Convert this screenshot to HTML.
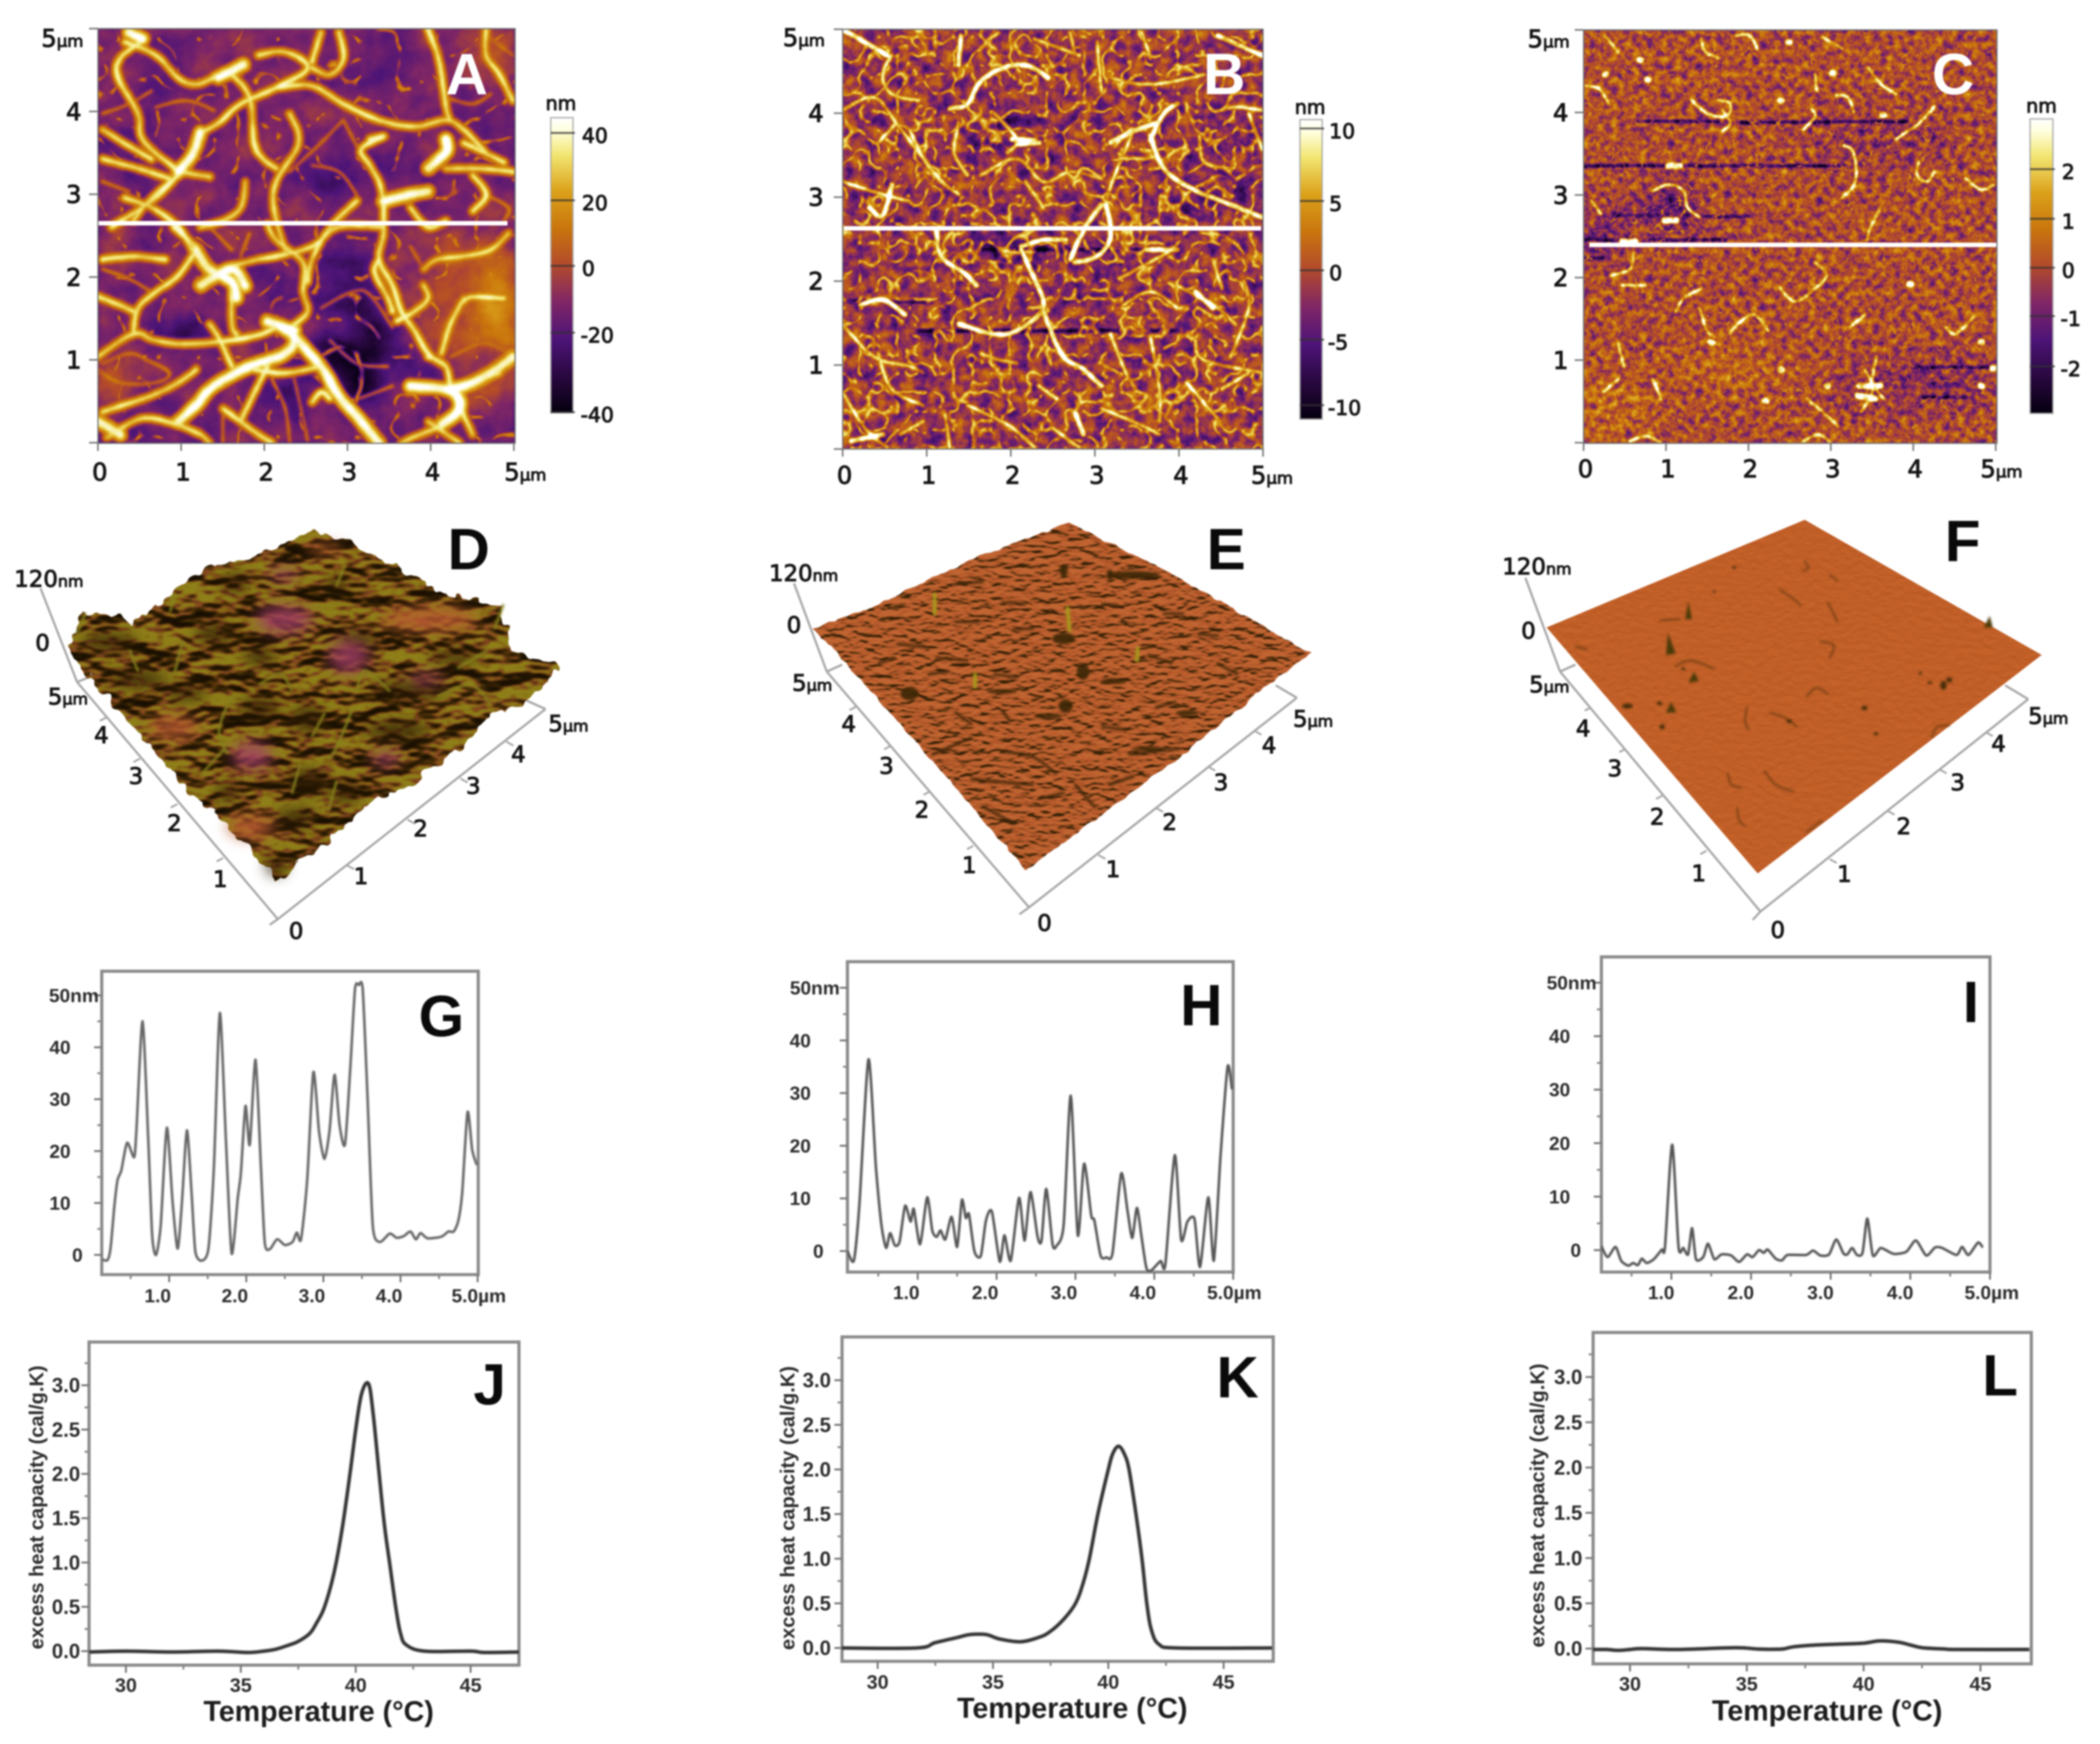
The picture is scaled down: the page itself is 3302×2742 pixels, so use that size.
<!DOCTYPE html>
<html lang="en">
<head>
<meta charset="utf-8">
<title>AFM topography, height profiles and DSC thermograms</title>
<style>
html,body{margin:0;padding:0;background:#fff;width:3302px;height:2742px;overflow:hidden}
svg{display:block;filter:blur(1.2px)}
text{font-family:"Liberation Sans",sans-serif}
.dj{font-family:"DejaVu Sans","Liberation Sans",sans-serif;fill:#141414;stroke:#141414;stroke-width:1.3px}
.pl{font-weight:700;fill:#2c2c2c}
.let{font-weight:700;font-size:92px;text-anchor:middle;fill:#0a0a0a}
</style>
</head>
<body>
<svg id="root" xmlns="http://www.w3.org/2000/svg" width="3302" height="2742" viewBox="0 0 3302 2742">
<defs>
<linearGradient id="cbar" x1="0" y1="1" x2="0" y2="0">
<stop offset="0" stop-color="#05000f"/><stop offset=".125" stop-color="#290840"/><stop offset=".25" stop-color="#4d1478"/><stop offset=".375" stop-color="#802666"/><stop offset=".5" stop-color="#b24a2c"/><stop offset=".625" stop-color="#c9750d"/><stop offset=".75" stop-color="#dba11a"/><stop offset=".875" stop-color="#f2e673"/><stop offset=".96" stop-color="#ffffe0"/><stop offset="1" stop-color="#ffffff"/>
</linearGradient>
<filter id="soft" filterUnits="userSpaceOnUse" x="0" y="0" width="3302" height="900" color-interpolation-filters="sRGB"><feGaussianBlur stdDeviation="22"/></filter>
<filter id="soft2" filterUnits="userSpaceOnUse" x="0" y="800" width="3302" height="700" color-interpolation-filters="sRGB"><feGaussianBlur stdDeviation="11"/></filter>
<filter id="soft3" filterUnits="userSpaceOnUse" x="0" y="800" width="3302" height="700" color-interpolation-filters="sRGB"><feGaussianBlur stdDeviation="1.8"/></filter>

<filter id="afmA" filterUnits="userSpaceOnUse" x="154" y="45" width="656" height="652" color-interpolation-filters="sRGB">
<feGaussianBlur in="SourceGraphic" stdDeviation="2.2" result="s"/>
<feTurbulence type="fractalNoise" baseFrequency=".02" numOctaves="4" seed="8" result="t"/>
<feColorMatrix in="t" type="matrix" values="1 0 0 0 0 1 0 0 0 0 1 0 0 0 0 0 0 0 0 1" result="n"/>
<feComposite in="s" in2="n" operator="arithmetic" k1="0" k2="1" k3=".26" k4="-.13" result="c0"/>
<feTurbulence type="turbulence" baseFrequency=".016" numOctaves="2" seed="31" result="t2"/>
<feColorMatrix in="t2" type="matrix" values="-5 0 0 0 .8 -5 0 0 0 .8 -5 0 0 0 .8 0 0 0 0 1" result="v"/>
<feGaussianBlur in="v" stdDeviation="1.8" result="v2"/>
<feBlend in="c0" in2="v2" mode="lighten" result="c"/>
<feComponentTransfer in="c">
<feFuncR type="table" tableValues=".02 .16 .30 .50 .70 .79 .86 .95 1"/><feFuncG type="table" tableValues="0 .03 .08 .15 .29 .46 .63 .90 1"/><feFuncB type="table" tableValues=".06 .25 .47 .40 .17 .05 .10 .45 1"/>
</feComponentTransfer>
</filter>

<filter id="afmB" filterUnits="userSpaceOnUse" x="1325" y="46" width="661" height="660" color-interpolation-filters="sRGB">
<feGaussianBlur in="SourceGraphic" stdDeviation="1.3" result="s"/>
<feTurbulence type="fractalNoise" baseFrequency=".05" numOctaves="3" seed="17" result="t0"/>
<feColorMatrix in="t0" type="matrix" values="1 0 0 0 0 1 0 0 0 0 1 0 0 0 0 0 0 0 0 1" result="n"/>
<feComposite in="s" in2="n" operator="arithmetic" k1="0" k2="1" k3=".7" k4="-.35" result="c0"/>
<feTurbulence type="turbulence" baseFrequency=".034" numOctaves="2" seed="5" result="t"/>
<feColorMatrix in="t" type="matrix" values="-3.0 0 0 0 .98 -3.0 0 0 0 .98 -3.0 0 0 0 .98 0 0 0 0 1" result="v"/>
<feGaussianBlur in="v" stdDeviation="1.1" result="v2"/>
<feBlend in="c0" in2="v2" mode="lighten" result="c"/>
<feComponentTransfer in="c">
<feFuncR type="table" tableValues=".02 .16 .30 .50 .70 .79 .86 .95 1"/><feFuncG type="table" tableValues="0 .03 .08 .15 .29 .46 .63 .90 1"/><feFuncB type="table" tableValues=".06 .25 .47 .40 .17 .05 .10 .45 1"/>
</feComponentTransfer>
</filter>

<filter id="afmC" filterUnits="userSpaceOnUse" x="2490" y="47" width="650" height="650" color-interpolation-filters="sRGB">
<feGaussianBlur in="SourceGraphic" stdDeviation="1.3" result="s"/>
<feTurbulence type="fractalNoise" baseFrequency=".09" numOctaves="3" seed="21" result="t"/>
<feColorMatrix in="t" type="matrix" values="1 0 0 0 0 1 0 0 0 0 1 0 0 0 0 0 0 0 0 1" result="n"/>
<feComposite in="s" in2="n" operator="arithmetic" k1="0" k2="1" k3=".72" k4="-.36" result="c1"/>
<feTurbulence type="turbulence" baseFrequency=".055" numOctaves="1" seed="9" result="t2"/>
<feColorMatrix in="t2" type="matrix" values="-10 0 0 0 .68 -10 0 0 0 .68 -10 0 0 0 .68 0 0 0 0 1" result="v"/>
<feGaussianBlur in="v" stdDeviation=".9" result="v2"/>
<feBlend in="c1" in2="v2" mode="lighten" result="c"/>
<feComponentTransfer in="c">
<feFuncR type="table" tableValues=".02 .16 .30 .50 .70 .79 .86 .95 1"/><feFuncG type="table" tableValues="0 .03 .08 .15 .29 .46 .63 .90 1"/><feFuncB type="table" tableValues=".06 .25 .47 .40 .17 .05 .10 .45 1"/>
</feComponentTransfer>
</filter>

<filter id="relD" filterUnits="userSpaceOnUse" x="70" y="820" width="860" height="590" color-interpolation-filters="sRGB">
<feTurbulence type="fractalNoise" baseFrequency=".05" numOctaves="2" seed="4" result="dn"/>
<feDisplacementMap in="SourceGraphic" in2="dn" scale="22" xChannelSelector="R" yChannelSelector="G" result="shape"/>
<feTurbulence type="fractalNoise" baseFrequency=".016 .03" numOctaves="3" seed="11" result="t"/>
<feColorMatrix in="t" type="matrix" values="0 0 0 0 0 0 0 0 0 0 0 0 0 0 0 1 0 0 0 0" result="h"/>
<feDiffuseLighting in="h" surfaceScale="22" diffuseConstant="1.05" lighting-color="#fff" result="l"><feDistantLight azimuth="270" elevation="48"/></feDiffuseLighting>
<feGaussianBlur in="l" stdDeviation="1.3" result="l2"/>
<feComponentTransfer in="l2" result="col">
<feFuncR type="table" tableValues=".10 .14 .19 .26 .34 .52 .50 .56"/><feFuncG type="table" tableValues=".06 .09 .12 .17 .21 .27 .36 .50"/><feFuncB type="table" tableValues=".01 .01 .02 .03 .04 .14 .07 .10"/>
</feComponentTransfer>
<feComposite in="col" in2="shape" operator="in"/>
</filter>

<filter id="relE" filterUnits="userSpaceOnUse" x="1250" y="800" width="840" height="590" color-interpolation-filters="sRGB">
<feTurbulence type="fractalNoise" baseFrequency=".05" numOctaves="2" seed="7" result="dn"/>
<feDisplacementMap in="SourceGraphic" in2="dn" scale="8" xChannelSelector="R" yChannelSelector="G" result="shape"/>
<feTurbulence type="fractalNoise" baseFrequency=".05 .11" numOctaves="2" seed="14" result="t"/>
<feColorMatrix in="t" type="matrix" values="0 0 0 0 0 0 0 0 0 0 0 0 0 0 0 1 0 0 0 0" result="h"/>
<feDiffuseLighting in="h" surfaceScale="6" diffuseConstant="1.05" lighting-color="#fff" result="l"><feDistantLight azimuth="270" elevation="48"/></feDiffuseLighting>
<feGaussianBlur in="l" stdDeviation=".8" result="l2"/>
<feComponentTransfer in="l2" result="col">
<feFuncR type="table" tableValues=".2 .24 .32 .48 .64 .70 .73 .76"/><feFuncG type="table" tableValues=".12 .14 .19 .26 .32 .34 .37 .40"/><feFuncB type="table" tableValues=".03 .03 .06 .1 .15 .16 .18 .2"/>
</feComponentTransfer>
<feComposite in="col" in2="shape" operator="in"/>
</filter>

<filter id="relF" filterUnits="userSpaceOnUse" x="2400" y="800" width="840" height="590" color-interpolation-filters="sRGB">
<feTurbulence type="fractalNoise" baseFrequency=".08 .12" numOctaves="2" seed="3" result="t"/>
<feColorMatrix in="t" type="matrix" values="0 0 0 0 0 0 0 0 0 0 0 0 0 0 0 1 0 0 0 0" result="h"/>
<feDiffuseLighting in="h" surfaceScale="1.4" diffuseConstant="1.05" lighting-color="#fff" result="l"><feDistantLight azimuth="270" elevation="48"/></feDiffuseLighting>
<feComponentTransfer in="l" result="col">
<feFuncR type="table" tableValues=".55 .62 .68 .72 .745 .765 .78"/><feFuncG type="table" tableValues=".26 .30 .33 .35 .36 .38 .40"/><feFuncB type="table" tableValues=".08 .10 .12 .13 .15 .16 .18"/>
</feComponentTransfer>
<feComposite in="col" in2="SourceGraphic" operator="in"/>
</filter>
<filter id="lineBlur" filterUnits="userSpaceOnUse" x="0" y="1450" width="3302" height="1292"><feGaussianBlur stdDeviation=".7"/></filter>
</defs>

<g id="layer-maps"></g>
<g id="layer-3d"></g>
<g id="layer-plots"></g>

<g>
<text class="let" style="fill:#fff" x="734" y="148">A</text>
<text class="let" style="fill:#fff" x="1925" y="148">B</text>
<text class="let" style="fill:#fff" x="3071" y="148">C</text>
<text class="let" x="737" y="895">D</text>
<text class="let" x="1928" y="895">E</text>
<text class="let" x="3086" y="882">F</text>
<text class="let" x="694" y="1629">G</text>
<text class="let" x="1889" y="1612">H</text>
<text class="let" x="3099" y="1607">I</text>
<text class="let" x="770" y="2208">J</text>
<text class="let" x="1946" y="2197">K</text>
<text class="let" x="3145" y="2194">L</text>
</g>
</svg>

<script>
// ---------- line chart data ----------
const profileXTicks = [1, 2, 3, 4, 5];
const profileXMinor = [0.5, 1.5, 2.5, 3.5, 4.5];
const profileYTicks = [0, 10, 20, 30, 40, 50];
const profileYMinor = [5, 15, 25, 35, 45];
const thermoXTicks = [30, 35, 40, 45];
const thermoXMinor = [32.5, 37.5, 42.5];
const thermoYTicks = [0, 0.5, 1, 1.5, 2, 2.5, 3];
const thermoYMinor = [0.25, 0.75, 1.25, 1.75, 2.25, 2.75, 3.25];

const gDist = [.13,.2,.24,.29,.33,.38,.455,.545,.575,.655,.73,.78,.83,.89,.97,1.045,1.11,1.165,1.23,1.29,1.34,1.425,1.51,1.58,1.657,1.737,1.81,1.89,1.93,1.99,2.045,2.12,2.19,2.24,2.305,2.4,2.5,2.6,2.655,2.71,2.79,2.87,2.945,3.015,3.08,3.145,3.21,3.28,3.35,3.41,3.46,3.51,3.57,3.64,3.73,3.86,3.95,4.04,4.13,4.2,4.26,4.35,4.53,4.62,4.69,4.75,4.8,4.87,4.93,4.99];
const gHeight = [-.9,-1,1.3,9.5,14.4,16.3,21.6,18.8,24,45,21.7,3.7,0,5.7,24.5,10,1.2,10,24,12,.6,-1.1,1.3,16.8,46.6,21.7,.3,11,15.8,28.7,21.2,37.6,16.8,2.3,1.1,3,1.9,2.5,4.3,3,14.4,35.2,23.6,18.5,24,34.7,25,21.3,36.2,51.2,52,51.2,31.3,5.7,2.5,4.1,3.3,3.6,4.5,3,4.2,3.2,3.5,4.5,4.5,6.6,12,27.5,20.2,17.3];

const hDist = [.11,.19,.26,.376,.47,.54,.6,.65,.71,.77,.84,.91,.95,1.03,1.12,1.185,1.24,1.29,1.35,1.43,1.5,1.56,1.61,1.65,1.72,1.8,1.865,1.94,2.04,2.1,2.18,2.285,2.355,2.43,2.52,2.57,2.63,2.71,2.76,2.85,2.94,3.03,3.11,3.2,3.24,3.32,3.395,3.47,3.58,3.66,3.72,3.78,3.84,3.9,3.96,4.08,4.14,4.26,4.34,4.42,4.51,4.58,4.685,4.755,4.84,4.93,4.985];
const hHeight = [0,-1.8,8.7,36.4,15.9,4.9,.6,3.4,1.1,1.8,8.6,5.6,8,1.3,10.2,3.9,2.7,3.9,2.2,6.5,.8,9.7,6.3,7,-.1,-.9,5.8,7.5,-2,3,-1.8,10.1,2,11.2,2.7,2,11.8,1.3,1,4.9,29.5,3,16.6,6.8,5.8,-.9,-1.2,-.4,14.7,7.7,2.5,8.2,2.5,-3.2,-3.7,-1.9,-2.5,18.2,2.2,5.6,6.1,-3,10.2,-1.8,18.2,35,30.7];

const iDist = [.12,.2,.3,.37,.46,.52,.58,.63,.69,.78,.88,.92,1.01,1.09,1.15,1.21,1.26,1.31,1.4,1.46,1.54,1.63,1.75,1.85,1.95,2.02,2.1,2.16,2.21,2.31,2.39,2.46,2.69,2.78,2.87,2.98,3.07,3.16,3.21,3.27,3.33,3.4,3.46,3.53,3.63,3.79,3.95,4.07,4.2,4.31,4.4,4.58,4.65,4.73,4.85,4.91];
const iHeight = [.8,-1.3,.6,-2,-2.9,-2.4,-2.8,-1.6,-2.4,-1.7,.1,.6,19.7,.6,.4,-.8,4.1,-1.7,-1.3,1.2,-1.7,-.8,-1,-2.2,-.8,-1.3,0,-.5,.1,-1.6,-1.9,-.9,-.9,-.1,-1,-.8,2,-.6,-.8,.4,-.9,-.5,5.9,-1,.4,-.7,-.3,1.8,-1,.5,.4,-.9,.6,-.9,1.4,.5];

const jTemp = [28.4,30,32,34,35.3,36,36.5,37,37.5,38,38.3,38.6,38.9,39.15,39.45,39.75,40,40.25,40.55,40.75,41,41.25,41.5,41.75,41.95,42.2,43,45,45.6,47.1];
const jCp = [-.01,0,-.01,0,-.015,0,.02,.06,.11,.2,.32,.47,.72,1,1.45,2,2.5,2.9,3.02,2.7,2.05,1.42,.95,.48,.2,.07,0,0,-.015,-.01];

const kTemp = [28.4,31.7,32.5,33.5,34,34.7,35.3,36.2,37,37.46,38.06,38.58,38.9,39.18,39.55,40,40.2,40.45,40.7,40.9,41.2,41.46,41.67,41.87,42.2,43,47.1];
const kCp = [0,0,.06,.12,.15,.15,.1,.07,.12,.18,.32,.5,.72,1,1.5,2,2.18,2.26,2.17,2,1.5,1,.5,.2,.04,0,0];

const lTemp = [28.4,29,29.5,30,30.5,32,34.5,35.5,36.5,37,38,39,40,40.7,41.5,42,42.5,43.5,44,47.1];
const lCp = [-.01,-.01,-.02,-.01,0,-.01,.01,-.005,-.005,.02,.04,.05,.06,.085,.07,.04,.01,-.005,-.01,-.01];

// colour-bar ticks
const cbarALabels = ['40','20','0','-20','-40'];
const cbarAValues = [40,20,0,-20,-40];
const cbarBLabels = ['10','5','0','-5','-10'];
const cbarBValues = [10,5,0,-5,-10];
const cbarCLabels = ['2','1','0','-1','-2'];
const cbarCValues = [2,1,0,-1,-2];
const mapTicks = [0,1,2,3,4];

// ---------- micrograph traces, in trace units of each image ----------
const aBlobs = [[690,230,500,300,.36],[870,200,80,100,.3],[1100,150,60,70,.56],[1090,980,90,240,.64],[1010,840,80,110,.52],[1100,760,60,40,.52],[1000,980,60,100,.5],[780,1100,100,60,0],[810,1200,50,50,.02],[400,1020,60,40,.08],[360,260,50,40,.14],[770,545,60,30,.08],[690,585,35,30,.1],[770,860,75,110,.2],[840,1010,60,50,.12],[620,840,40,50,.2],[620,1220,60,70,.2],[310,1300,40,40,.25],[250,1150,60,90,.5],[260,740,50,40,.48],[300,850,70,50,.3],[420,1340,50,30,.2],[950,1150,40,30,.15],[1080,1110,50,30,.2],[1100,380,50,40,.2],[880,470,50,50,.22],[550,390,50,60,.3],[290,470,60,90,.28],[1120,530,20,20,.1]];
const aThick = [[620,1000,660,1040,640,1090,560,1130,480,1190,440,1250,400,1300],[660,1040,720,1130,760,1220,810,1300,850,1365],[440,770,470,830,520,870,530,920],[450,880,520,830,550,880],[490,240,545,200],[960,520,1000,470,1000,430],[860,620,920,600,960,590],[220,1300,270,1340],[1000,1200,1040,1190,1100,1150,1150,1100],[920,1190,1010,1205,1030,1260,990,1310],[400,530,430,480,450,410],[600,990,660,1020],[290,100,320,120]];
const aMid = [[290,100,320,120,270,180,265,240,310,350,320,430,385,510,410,530,470,545],[480,240,440,260,400,240,350,170,280,130],[520,230,560,300,570,440,590,490,620,520],[580,170,640,160,690,210,620,270,540,320,490,380,450,410],[620,270,700,265,770,320,850,370,930,390,1000,370,1040,400,1090,470],[760,100,770,180,740,230,700,210],[720,100,700,190],[960,90,985,190,1000,330,1010,370],[1090,90,1090,170,1120,230,1150,310],[830,430,860,420,810,460,830,510,850,560,860,620],[860,620,860,720,850,800,880,880,900,960,930,1020,960,1090,1000,1130],[850,800,840,840,870,920,880,960],[550,560,540,640,500,680,450,700],[250,700,340,620,400,540],[280,610,340,640,400,700,430,770],[410,530,340,610,300,680],[600,690,620,740,680,810,680,900,690,960,660,1000],[650,350,670,440,620,560,615,650,640,770],[860,700,760,700,700,760,620,790,580,800,520,820],[520,880,520,1000,530,1030],[440,770,400,850,350,900,310,950,300,1020],[220,1100,300,1030,350,1050,430,1060,560,1040,620,1010],[470,1000,490,1040,520,1130],[300,960,250,930,220,915],[440,1140,400,1180,340,1220,230,1270],[570,1140,640,1150,720,1130],[700,1240,720,1210,740,1230],[1010,1210,1000,1130,960,1100],[1030,1250,1060,1340],[1000,1200,1120,1150],[950,880,960,920,930,960,890,990],[1140,720,1100,770,1040,790,980,800,950,830],[1040,920,1010,1000,990,1090],[1130,920,1060,915,1040,930],[400,1310,450,1340,470,1365],[500,1260,540,1300,580,1340,610,1365],[800,620,740,700,700,800,690,870],[1040,440,1130,500],[1000,520,1080,520,1150,530],[900,1365,940,1340,1000,1310],[960,1300,1030,1365],[230,800,300,790,370,800],[230,490,310,520,380,550],[230,400,290,450,340,490],[390,700,440,760],[600,1130,560,1240,540,1300],[240,1350,320,1290,400,1310],[920,640,960,700,1000,680],[1060,540,1090,600,1060,650]];
const aThin = [[660,1170,680,1290,690,1360],[610,1170,640,1260,650,1365],[880,1190,800,1230,740,1240],[740,1050,800,1120,870,1130],[720,950,790,900,830,910,880,1010],[770,370,720,440,650,530],[770,370,800,450],[700,510,760,530,800,600],[500,1280,500,1365],[230,1120,290,1090,330,1110,380,1150,350,1180,270,1180,220,1140],[230,830,290,860,340,900],[230,350,290,320,340,280],[920,760,950,830],[560,720,540,790],[470,700,520,770],[1010,1100,1080,1060,1130,1080],[1080,100,1150,170],[350,330,420,310,480,340],[230,560,290,590],[1090,600,1140,640,1130,680],[1000,300,1060,320,1100,290]];

const bBlobs = [[1110,590,70,30,.1],[1010,640,50,40,.12],[620,760,100,40,.15],[530,770,30,20,.15],[270,650,30,20,.12],[870,770,80,20,.2],[600,400,80,60,.26],[1100,440,60,60,.28],[800,880,70,60,.3],[480,800,50,40,.26],[1000,1110,50,50,.32],[650,1340,50,30,.3]];
const bDark = [[420,1020,680,1020,1000,1020],[530,770,930,770],[250,930,450,930]];
const bThick = [[490,335,530,320,560,250,620,205,670,205,710,240],[940,420,970,520,1030,580,1100,620,1190,670],[940,430,970,350,1000,320],[850,440,900,405,950,380],[310,640,340,665,360,570],[760,800,790,710,830,630],[770,810,820,790,850,730,840,630],[460,710,470,790,520,840,550,880],[650,770,680,860,700,930,690,970,640,1020,590,1030,510,1000],[700,960,740,1090,790,1140,830,1190],[650,760,700,740,750,740],[930,770,1000,770],[290,940,340,925,390,970],[1040,900,1080,950],[770,1270,790,1340],[270,1360,340,1340],[1090,110,1190,170],[250,90,300,130,350,170],[515,110,510,200],[640,445,690,440],[630,430,680,432]];
const bMid = [[360,170,340,230,360,290,420,310],[250,340,320,300,370,380,420,470,480,570],[370,380,330,440],[400,400,450,530,510,600],[510,380,500,470,530,540],[590,350,640,430,620,470],[560,540,640,490,700,560,760,530,830,550],[660,560,700,640],[250,560,340,600,400,620],[860,450,900,400,860,540,840,620],[1050,420,1060,500,1120,520],[1160,350,1190,460],[1000,880,1090,950,1130,1000],[1150,870,1160,950,1120,1100],[250,1000,320,1100,400,1130,430,1150],[330,1090,360,1200,430,1250],[560,1090,600,1110,640,1120],[530,1250,620,1310,680,1380],[720,1320,780,1380],[830,1260,900,1300,960,1340],[850,1030,890,1170],[940,1040,960,1200,960,1300],[1040,1050,1060,1110,1190,1150],[1100,1200,1160,1150],[1020,1180,1090,1290],[250,1210,300,1320,350,1380],[430,1300,380,1340],[480,1280,490,1380],[690,1190,730,1230],[870,860,990,770],[880,940,940,900,1000,950],[1080,800,1100,890],[760,100,770,160],[920,100,940,180],[570,130,600,100],[680,120,780,170],[820,130,830,280],[850,240,940,260,1060,230],[1100,340,1130,330,1190,340]];

const cBlobs = [[460,620,35,50,.03],[490,685,40,15,.03],[270,700,35,25,.08],[360,670,60,20,.18],[915,1200,25,40,.15],[280,770,50,30,.28],[1100,1180,200,70,.38],[1000,430,200,80,.42],[300,1250,120,100,.58],[600,1130,150,60,.58]];
const cDark = [[370,375,580,375],[640,378,1070,375],[230,512,440,512],[490,512,910,512],[400,740,600,740],[320,665,430,665],[540,668,660,668],[1080,1133,1280,1133],[1100,1225,1220,1225],[230,795,280,795],[230,740,320,740]];
const cBright = [[535,120,545,160,580,180],[510,310,550,350,600,360,610,320,580,310],[590,340,610,380,590,405],[1140,330,1100,380,1040,430],[970,210,1000,260,1040,290],[905,450,930,470,935,560,900,610],[1000,640,975,700,965,740],[410,590,450,570,490,590,500,640,530,670],[250,620,275,660],[470,960,490,920,535,890],[530,950,550,1020,570,1040],[610,1030,630,1000,670,970,710,1020],[830,810,860,850,830,890,780,930,740,890],[960,1140,980,1200,950,1270],[990,1100,980,1180,1010,1230],[920,1010,960,970],[1170,1010,1195,1030,1240,980],[235,265,270,275,295,320],[285,110,320,160],[625,110,660,110,680,150],[850,115,900,150],[350,1360,390,1345,430,1365],[800,1360,840,1340,870,1365],[1220,550,1260,585,1295,570],[1100,500,1095,540,1120,560,1140,530],[320,1060,335,1130],[410,1170,430,1230],[280,1210,320,1170],[330,880,390,880],[300,850,350,830,360,780],[810,1230,850,1270,890,1315],[885,295,915,300,930,345],[800,400,830,360,820,335],[830,230,835,280]];
const cSpots = [[440,680,470,680],[330,745,365,745],[450,512,480,512],[945,1190,1000,1190],[940,1220,985,1230],[285,230,289,231],[395,245,400,246],[740,310,744,311],[875,225,880,226],[1005,355,1009,356],[740,1140,745,1141],[1290,1135,1294,1136],[1260,1055,1264,1056],[560,1055,564,1056],[860,1190,864,1191],[700,1235,704,1236],[1075,875,1079,876],[1260,1190,1264,1191],[760,130,764,131],[375,185,379,186]];

const dEdge = [165,490,210,360,330,400,430,290,530,190,590,190,690,130,770,80,860,110,1000,230,1100,300,1240,340,1260,500,1380,555,1290,690,1210,720,1140,840,1020,960,900,1050,810,1170,680,1310,630,1220,530,1070,450,970,320,750,220,590];
const dPink = [[700,390,70,50],[860,520,50,60],[620,870,50,50],[950,880,35,25],[1050,600,45,18],[700,230,35,20]];
const dOrange = [[1060,390,120,40],[430,770,60,40],[620,1120,60,40],[800,140,45,15]];
const dShadows = [[530,440,50,28],[1010,640,90,26],[980,780,80,28],[640,700,50,30],[760,740,40,40],[460,650,50,22],[340,600,70,26],[270,470,70,26],[880,460,50,26],[640,520,40,26],[760,960,45,40],[850,1000,40,30],[730,1090,50,30],[680,1260,25,30],[560,1000,30,26],[1120,520,60,20],[830,270,30,24],[580,260,30,30]];
const dRidges = [[640,620,690,580,720,640],[570,660,540,780,560,860],[880,640,900,570,960,640],[1080,660,1160,620,1210,690],[870,700,830,840,810,880],[800,720,770,800],[740,900,720,1000],[830,960,810,1060],[430,300,420,360],[1240,340,1220,420],[1200,500,1130,560],[550,850,500,930],[210,370,190,440],[850,200,830,270],[320,500,340,570],[450,470,430,580]];

const eEdge = [130,430,280,360,530,190,640,130,795,50,1040,220,1280,410,1420,525,1300,650,1100,880,800,1190,683,1310,430,900,280,660];
const eDark = [[380,670,24,24],[785,715,18,24],[740,752,36,8],[830,590,16,30],[780,470,30,20],[960,240,70,14],[780,225,10,25],[900,240,8,20],[910,625,34,10],[620,662,40,8],[1100,740,30,9],[1000,870,44,7]];
const eStreaks = [[440,890,540,830],[540,980,700,1000],[620,880,700,900,760,960],[950,890,1080,870],[720,1050,780,1030],[570,1080,650,1140],[810,1000,860,1080],[430,600,480,590],[650,435,700,435],[500,410,560,410],[350,490,420,500],[450,540,530,550],[520,270,570,265],[880,345,920,350],[1040,380,1090,380],[620,340,680,345],[1130,455,1180,460],[1180,560,1230,600],[600,600,660,610],[1000,530,1060,560],[900,1000,960,970],[1020,720,1070,700],[880,790,940,800],[640,770,620,730],[500,740,540,780],[300,560,340,540]];
const ePeaks = [[550,645,550,600],[795,440,790,360],[970,550,972,505],[445,380,445,310]];

const fEdge = [135,430,805,40,1420,530,683,1322];
const fSpikes = [[445,530,450,450,470,525],[495,400,503,335,512,400],[503,630,518,590,530,625],[445,740,458,700,472,738],[1270,430,1285,388,1293,430]];
const fSpots = [[345,715,14,9],[1165,640,8,16],[1180,620,8,9],[1130,630,6,5],[1105,595,5,5],[435,790,7,9],[960,722,8,8],[990,815,6,6],[622,213,5,5],[570,300,4,4],[428,705,7,7],[765,770,7,7],[490,580,6,5]];
const fArcs = [[740,295,770,320,795,350],[865,340,880,380,890,410],[845,480,880,495,870,540],[805,190,815,215,800,225],[810,680,835,650,865,670],[655,720,650,770,660,800],[715,740,750,755,785,790],[605,960,615,1000,640,1010],[700,950,730,1000,775,1025],[630,1085,635,1130,650,1150],[210,500,240,510],[470,570,510,550,570,580],[1135,825,1150,790,1180,785],[810,1170,850,1130],[430,405,480,400],[870,240,890,260]];

// ---------- helpers ----------
const NS = 'http://www.w3.org/2000/svg';
function mk(tag, attrs, parent, name, interact) {
  const el = document.createElementNS(NS, tag);
  for (const k in attrs) el.setAttribute(k, attrs[k]);
  
  
  parent.appendChild(el);
  return el;
}
function lin(v0, p0, v1, p1) { return v => p0 + (v - v0) * (p1 - p0) / (v1 - v0); }
function smooth(pts, tension) {
  let d = 'M' + pts[0][0].toFixed(1) + ' ' + pts[0][1].toFixed(1);
  for (let i = 0; i < pts.length - 1; i++) {
    const p0 = pts[Math.max(i - 1, 0)], p1 = pts[i], p2 = pts[i + 1], p3 = pts[Math.min(i + 2, pts.length - 1)];
    const c1 = [p1[0] + (p2[0] - p0[0]) * tension, p1[1] + (p2[1] - p0[1]) * tension];
    const c2 = [p2[0] - (p3[0] - p1[0]) * tension, p2[1] - (p3[1] - p1[1]) * tension];
    d += 'C' + c1[0].toFixed(1) + ' ' + c1[1].toFixed(1) + ' ' + c2[0].toFixed(1) + ' ' + c2[1].toFixed(1) + ' ' + p2[0].toFixed(1) + ' ' + p2[1].toFixed(1);
  }
  return d;
}
function gray(v) { const c = Math.round(v * 255); return 'rgb(' + c + ',' + c + ',' + c + ')'; }
function tracePts(arr, fx, fy) { const o = []; for (let i = 0; i < arr.length; i += 2) o.push([fx(arr[i]), fy(arr[i + 1])]); return o; }
function drawTraces(parent, list, fx, fy, stroke, width, name) {
  list.forEach(t => {
    mk('path', {d: smooth(tracePts(t, fx, fy), .18), fill: 'none', stroke: stroke, 'stroke-width': width, 'stroke-linecap': 'round', 'stroke-linejoin': 'round'}, parent, name);
  });
}
function drawBlobs(parent, list, fx, fy, name) {
  list.forEach(b => {
    mk('ellipse', {cx: fx(b[0]), cy: fy(b[1]), rx: Math.abs(fx(b[0] + b[2]) - fx(b[0])), ry: Math.abs(fy(b[1] + b[3]) - fy(b[1])), fill: gray(b[4])}, parent, name);
  });
}
function djText(parent, str, x, y, size, anchor, name) {
  const t = mk('text', {x: x, y: y + size * .36, 'font-size': size, 'text-anchor': anchor, class: 'dj'}, parent, name);
  t.textContent = str;
  return t;
}
function djUnit(parent, num, unit, x, y, size, usize, anchor, name) {
  const t = mk('text', {x: x, y: y + size * .36, 'font-size': size, 'text-anchor': anchor, class: 'dj'}, parent, name);
  t.appendChild(document.createTextNode(num));
  const s = document.createElementNS(NS, 'tspan');
  s.setAttribute('font-size', usize);
  
  
  s.textContent = unit;
  t.appendChild(s);
  return t;
}

// ---------- 2D maps ----------
const layerMaps = document.getElementById('layer-maps');
const mapConfigs = [
 {id:'a', f:'afmA', x0:154, x1:808, y0:696, y1:45, top:45, bot:697, left:154, right:810,
  tx:lin(220,154,1155,810), ty:lin(88,45,1367,697), base:.36,
  line:[154,798,351], ylab:116, xlabY:742, five:[65,60], fiveX:793,
  cb:{x:866,w:35,t:185,b:649,lx:915,nmx:882,nmy:162,ticks:[209,315,418,523,648]}, cbL:cbarALabels, cbV:cbarAValues},
 {id:'b', f:'afmB', x0:1325, x1:1986, y0:706, y1:46, top:46, bot:706, left:1325, right:1986,
  tx:lin(250,1325,1192,1986), ty:lin(90,46,1385,706), base:.42,
  line:[1327,1983,359], ylab:1283, xlabY:747, five:[1231,59], fiveX:1967,
  cb:{x:2044,w:35,t:188,b:659,lx:2090,nmx:2060,nmy:168,ticks:[202,316,425,534,637]}, cbL:cbarBLabels, cbV:cbarBValues},
 {id:'c', f:'afmC', x0:2490, x1:3138, y0:696, y1:47, top:47, bot:697, left:2490, right:3140,
  tx:lin(230,2490,1302,3140), ty:lin(93,47,1367,697), base:.5,
  line:[2499,3140,385], ylab:2454, xlabY:737, five:[2402,61], fiveX:3114,
  cb:{x:3192,w:36,t:187,b:650,lx:3242,nmx:3210,nmy:166,ticks:[266,344,421,497,576]}, cbL:cbarCLabels, cbV:cbarCValues}
];
mapConfigs.forEach(m => {
  const root = mk('g', {}, layerMaps, 'panel-' + m.id + '-height-map');
  const img = mk('g', {filter: 'url(#' + m.f + ')'}, root, 'height-image-' + m.id);
  mk('rect', {x: m.left, y: m.top, width: m.right - m.left, height: m.bot - m.top, fill: gray(m.base)}, img, 'image-background-' + m.id);
  const blobs = mk('g', {filter: 'url(#soft)'}, img, 'height-patches-' + m.id);
  if (m.id === 'a') {
    drawBlobs(blobs, aBlobs, m.tx, m.ty, 'height-patch');
    drawTraces(img, aThin, m.tx, m.ty, gray(.62), 5, 'thin-fiber');
    drawTraces(img, aMid, m.tx, m.ty, gray(.6), 17, 'fiber-halo');
    drawTraces(img, aThick, m.tx, m.ty, gray(.7), 26, 'fiber-bundle-halo');
    drawTraces(img, aMid, m.tx, m.ty, gray(.78), 9, 'fiber');
    drawTraces(img, aMid, m.tx, m.ty, gray(.93), 3.5, 'fiber-core');
    drawTraces(img, aThick, m.tx, m.ty, gray(.9), 14, 'fiber-bundle');
    drawTraces(img, aThick, m.tx, m.ty, gray(1), 7, 'fiber-bundle-core');
  }
  if (m.id === 'b') {
    drawBlobs(blobs, bBlobs, m.tx, m.ty, 'height-patch');
    drawTraces(img, bDark, m.tx, m.ty, gray(.06), 6, 'scan-streak');
    drawTraces(img, bMid, m.tx, m.ty, gray(.66), 7, 'fiber-halo');
    drawTraces(img, bMid, m.tx, m.ty, gray(.88), 3.5, 'fiber');
    drawTraces(img, bThick, m.tx, m.ty, gray(.98), 8, 'fiber-bundle');
  }
  if (m.id === 'c') {
    drawBlobs(blobs, cBlobs, m.tx, m.ty, 'height-patch');
    drawTraces(img, cDark, m.tx, m.ty, gray(.12), 5, 'scan-streak');
    drawTraces(img, cBright, m.tx, m.ty, gray(.9), 5, 'fiber');
    drawTraces(img, cSpots, m.tx, m.ty, gray(1), 10, 'bright-spot');
  }
  mk('rect', {x: m.line[0], y: m.line[2] - 3.5, width: m.line[1] - m.line[0], height: 7, fill: '#fff'}, root, 'profile-line-marker-' + m.id);
  mk('rect', {x: m.left, y: m.top, width: m.right - m.left, height: m.bot - m.top, fill: 'none', stroke: '#777', 'stroke-width': 2}, root, 'image-frame-' + m.id);
  const sx = lin(0, m.x0, 5, m.x1), sy = lin(0, m.y0, 5, m.y1);
  mapTicks.concat([5]).forEach(v => {
    mk('line', {x1: sx(v), x2: sx(v), y1: m.bot, y2: m.bot + 12, stroke: '#777', 'stroke-width': 2.5}, root, 'x-tick');
    mk('line', {x1: m.left - 14, x2: m.left, y1: sy(v), y2: sy(v), stroke: '#777', 'stroke-width': 2.5}, root, 'y-tick');
  });
  mapTicks.forEach(v => {
    djText(root, String(v), sx(v) + 3, m.xlabY, 38, 'middle', 'x-tick-label');
    if (v > 0) djText(root, String(v), m.ylab, sy(v), 38, 'middle', 'y-tick-label');
  });
  djUnit(root, '5', 'µm', m.fiveX, m.xlabY, 38, 26, 'start', 'x-tick-label-max');
  djUnit(root, '5', 'µm', m.five[0], m.five[1], 38, 26, 'start', 'y-tick-label-max');
  // colour bar
  const c = m.cb;
  const cg = mk('g', {}, root, 'colorbar-' + m.id);
  mk('rect', {x: c.x, y: c.t, width: c.w, height: c.b - c.t, fill: 'url(#cbar)', stroke: '#aaa', 'stroke-width': 2}, cg, 'colorbar-ramp');
  m.cbV.forEach((v, i) => {
    const yy = c.ticks[i];
    mk('line', {x1: c.x, x2: c.x + c.w + 3, y1: yy, y2: yy, stroke: '#333', 'stroke-opacity': .75, 'stroke-width': 3}, cg, 'colorbar-tick');
    djText(cg, m.cbL[i], c.lx - (m.cbL[i][0] === '-' ? 2 : 0), yy + 4, 32, 'start', 'colorbar-label');
  });
  djText(cg, 'nm', c.nmx, c.nmy, 30, 'middle', 'colorbar-unit');
});

// ---------- 3D surfaces ----------
const layer3d = document.getElementById('layer-3d');
const surfaces = [
 {id:'d', f:'relD', edge:dEdge, fx:lin(0,0,1568,1000), fy:lin(0,800,1568,1500),
  axis:[[100,280],[190,610],[685,1445],[1345,705]], stub:[[1290,670],[1345,705]], stub2:[[190,610],[225,590]], foot:[[685,1445],[665,1465]],
  leftT:[[262,735],[345,880],[437,1040],[550,1230]], rightT:[[855,1255],[1005,1095],[1135,950],[1248,820]],
  lab:{n120:[35,245],zero:[105,470],five:[118,660],l:[[250,795],[335,940],[430,1105],[543,1303]],o:[730,1485],r:[[890,1293],[1037,1125],[1167,975],[1278,862]],five2:[1352,755]}},
 {id:'e', f:'relE', edge:eEdge, fx:lin(0,1200,1568,2150), fy:lin(0,800,1568,1480),
  axis:[[80,270],[165,590],[690,1445],[1385,685]], stub:[[1330,640],[1385,685]], stub2:[[165,590],[205,565]], foot:[[690,1445],[665,1470]],
  leftT:[[240,718],[330,860],[432,1025],[545,1222]], rightT:[[870,1255],[1020,1085],[1155,935],[1275,805]],
  lab:{n120:[15,232],zero:[80,420],five:[75,630],l:[[222,778],[320,930],[412,1090],[535,1290]],o:[730,1500],r:[[908,1305],[1055,1135],[1188,990],[1313,855]],five2:[1375,760]}},
 {id:'f', f:'relF', edge:fEdge, fx:lin(0,2350,1568,3300), fy:lin(0,800,1568,1480),
  axis:[[80,250],[170,590],[690,1460],[1385,690]], stub:[[1325,640],[1385,690]], stub2:[[170,590],[210,565]], foot:[[690,1460],[670,1490]],
  leftT:[[250,720],[340,870],[435,1040],[550,1240]], rightT:[[870,1270],[1020,1095],[1155,945],[1275,810]],
  lab:{n120:[20,208],zero:[88,440],five:[90,635],l:[[230,795],[312,940],[422,1115],[530,1320]],o:[735,1525],r:[[908,1322],[1062,1150],[1202,990],[1308,850]],five2:[1385,750]}}
];
surfaces.forEach(s => {
  const root = mk('g', {}, layer3d, 'panel-' + s.id + '-3d-surface');
  const fx = s.fx, fy = s.fy;
  const ax = mk('g', {}, root, 'axes-3d-' + s.id);
  const seg = (a, b, w, n) => mk('line', {x1: fx(a[0]), y1: fy(a[1]), x2: fx(b[0]), y2: fy(b[1]), stroke: '#a8a8a8', 'stroke-width': w}, ax, n);
  seg(s.axis[0], s.axis[1], 3.5, 'z-axis');
  seg(s.axis[1], s.axis[2], 3.5, 'y-axis-3d');
  seg(s.axis[2], s.axis[3], 3.5, 'x-axis-3d');
  seg(s.stub[0], s.stub[1], 3.5, 'x-axis-end');
  seg(s.stub2[0], s.stub2[1], 3.5, 'y-axis-end');
  seg(s.foot[0], s.foot[1], 3.5, 'origin-tick');
  s.leftT.forEach(p => seg(p, [p[0] - 16, p[1] + 12], 3, 'y-tick-3d'));
  s.rightT.forEach(p => seg(p, [p[0] + 18, p[1] + 14], 3, 'x-tick-3d'));
  const surf = mk('g', {filter: 'url(#' + s.f + ')'}, root, 'surface-relief-' + s.id);
  const pts = tracePts(s.edge, fx, fy).map(p => p[0].toFixed(1) + ',' + p[1].toFixed(1)).join(' ');
  mk('polygon', {points: pts, fill: '#000'}, surf, 'surface-outline-' + s.id);
  const over = mk('g', {}, root, 'surface-detail-' + s.id);
  const ell = (parent, b, col, op, n) => mk('ellipse', {cx: fx(b[0]), cy: fy(b[1]), rx: Math.abs(fx(b[0] + b[2]) - fx(b[0])), ry: Math.abs(fy(b[1] + b[3]) - fy(b[1])), fill: col, opacity: op}, parent, n);
  const line = (parent, t, col, w, n) => mk('path', {d: smooth(tracePts(t, fx, fy), .18), fill: 'none', stroke: col, 'stroke-width': w, 'stroke-linecap': 'round'}, parent, n);
  if (s.id === 'd') {
    const g = mk('g', {filter: 'url(#soft2)'}, over, 'flat-regions');
    dShadows.forEach(b => ell(g, b, '#2a1a04', .85, 'valley-shadow'));
    dPink.forEach(b => ell(g, b, '#a23f66', .78, 'pink-flat-region'));
    dOrange.forEach(b => ell(g, b, '#b85a30', .85, 'orange-flat-region'));
    const g2 = mk('g', {filter: 'url(#soft3)'}, over, 'ridge-highlights');
    dRidges.forEach(t => line(g2, t, '#85801c', 4, 'ridge-highlight'));
  }
  if (s.id === 'e') {
    const g = mk('g', {filter: 'url(#soft3)'}, over, 'fibril-shadows');
    eDark.forEach(b => ell(g, b, '#3a2606', .9, 'dark-peak'));
    eStreaks.forEach(t => line(g, t, '#42280a', 4, 'dark-streak'));
    ePeaks.forEach(t => line(g, t, '#a89a1c', 6, 'olive-peak'));
  }
  if (s.id === 'f') {
    const g = mk('g', {filter: 'url(#soft3)'}, over, 'fibril-shadows');
    fArcs.forEach(t => line(g, t, '#6a3c10', 2.5, 'fibril-arc'));
    fSpots.forEach(b => ell(g, b, '#3a2806', .9, 'dark-spot'));
    fSpikes.forEach(p => mk('polygon', {points: tracePts(p, fx, fy).map(q => q.join(',')).join(' '), fill: '#4a3a08'}, g, 'surface-spike'));
  }
  const l = s.lab;
  djUnit(root, '120', 'nm', fx(l.n120[0]), fy(l.n120[1]), 36, 25, 'start', 'z-max-label');
  djText(root, '0', fx(l.zero[0]), fy(l.zero[1]), 36, 'middle', 'z-zero-label');
  djUnit(root, '5', 'µm', fx(l.five[0]), fy(l.five[1]), 36, 25, 'start', 'y-max-label-3d');
  ['4','3','2','1'].forEach((t, i) => djText(root, t, fx(l.l[i][0]), fy(l.l[i][1]), 36, 'middle', 'y-tick-label-3d'));
  djText(root, '0', fx(l.o[0]), fy(l.o[1]), 36, 'middle', 'origin-label');
  ['1','2','3','4'].forEach((t, i) => djText(root, t, fx(l.r[i][0]), fy(l.r[i][1]), 36, 'middle', 'x-tick-label-3d'));
  djUnit(root, '5', 'µm', fx(l.five2[0]), fy(l.five2[1]), 36, 25, 'start', 'x-max-label-3d');
});

// ---------- line charts ----------
const layerPlots = document.getElementById('layer-plots');
const plotConfigs = [
 {id:'g', kind:'profile', xs:gDist, ys:gHeight, left:160, right:752, top:1527, bot:2004, sx:lin(1,266,5,751), sy:lin(0,1973,50,1565), yRight:111, zeroRight:130, fifty:77, xlabY:2037, off:-18, lab5:710, col:'#666'},
 {id:'h', kind:'profile', xs:hDist, ys:hHeight, left:1332.5, right:1939, top:1512, bot:2000, sx:lin(1,1443,5,1939), sy:lin(0,1967,50,1553), yRight:1275, zeroRight:1295, fifty:1242, xlabY:2032, off:-18, lab5:1898, col:'#555'},
 {id:'i', kind:'profile', xs:iDist, ys:iHeight, left:2518, right:3129, top:1504.5, bot:2000, sx:lin(1,2628,5,3129), sy:lin(0,1965.5,50,1545), yRight:2469, zeroRight:2486, fifty:2432, xlabY:2032, off:-16, lab5:3089, col:'#555'},
 {id:'j', kind:'thermo', xs:jTemp, ys:jCp, left:140, right:816, top:2110, bot:2618, sx:lin(30,198,45,740), sy:lin(0,2596,3,2178), yRight:126, xlabY:2649, tx:501, ty:2690, yx:57, yy:2370},
 {id:'k', kind:'thermo', xs:kTemp, ys:kCp, left:1324, right:2002, top:2102, bot:2612, sx:lin(30,1380,45,1924), sy:lin(0,2591,3,2170), yRight:1306.5, xlabY:2644, tx:1686, ty:2685, yx:1238, yy:2371},
 {id:'l', kind:'thermo', xs:lTemp, ys:lCp, left:2505, right:3194, top:2095, bot:2616, sx:lin(30,2563,45,3114), sy:lin(0,2592,3,2165), yRight:2488, xlabY:2647, tx:2873, ty:2689, yx:2417, yy:2367}
];
function plText(parent, str, x, y, size, anchor, name) {
  const t = mk('text', {x: x, y: y + size * .35, 'font-size': size, 'text-anchor': anchor, class: 'pl'}, parent, name);
  t.textContent = str;
  return t;
}
plotConfigs.forEach(p => {
  const root = mk('g', {}, layerPlots, 'panel-' + p.id + '-chart');
  const clipId = 'clip-' + p.id;
  const defs = document.querySelector('defs');
  const cp = mk('clipPath', {id: clipId}, defs, 'clip-' + p.id);
  mk('rect', {x: p.left, y: p.top, width: p.right - p.left, height: p.bot - p.top}, cp, 'clip-rect');
  mk('rect', {x: p.left, y: p.top, width: p.right - p.left, height: p.bot - p.top, fill: 'none', stroke: '#8c8c8c', 'stroke-width': 5}, root, 'plot-frame-' + p.id);
  const isP = p.kind === 'profile';
  const xT = isP ? profileXTicks : thermoXTicks, xM = isP ? profileXMinor : thermoXMinor;
  const yT = isP ? profileYTicks : thermoYTicks, yM = isP ? profileYMinor : thermoYMinor;
  xT.forEach(v => mk('line', {x1: p.sx(v), x2: p.sx(v), y1: p.bot, y2: p.bot + 12, stroke: '#777', 'stroke-width': 3}, root, 'x-tick'));
  xM.forEach(v => mk('line', {x1: p.sx(v), x2: p.sx(v), y1: p.bot, y2: p.bot + 7, stroke: '#888', 'stroke-width': 3}, root, 'x-minor-tick'));
  yT.forEach(v => mk('line', {x1: p.left - 12, x2: p.left, y1: p.sy(v), y2: p.sy(v), stroke: '#777', 'stroke-width': 3}, root, 'y-tick'));
  yM.forEach(v => mk('line', {x1: p.left - 7, x2: p.left, y1: p.sy(v), y2: p.sy(v), stroke: '#888', 'stroke-width': 3}, root, 'y-minor-tick'));
  if (isP) {
    xT.forEach(v => {
      if (v < 5) plText(root, v.toFixed(1), p.sx(v) + p.off, p.xlabY, 30, 'middle', 'x-tick-label');
    });
    plText(root, '5.0µm', p.lab5, p.xlabY, 30, 'start', 'x-tick-label-max');
    yT.forEach(v => {
      if (v === 50) plText(root, '50nm', p.fifty, p.sy(v), 30, 'start', 'y-tick-label-max');
      else if (v === 0) plText(root, '0', p.zeroRight, p.sy(v), 30, 'end', 'y-tick-label');
      else plText(root, String(v), p.yRight, p.sy(v), 30, 'end', 'y-tick-label');
    });
  } else {
    xT.forEach(v => plText(root, String(v), p.sx(v), p.xlabY, 31, 'middle', 'x-tick-label'));
    yT.forEach(v => plText(root, v.toFixed(1), p.yRight, p.sy(v), 32, 'end', 'y-tick-label'));
    const tt = plText(root, 'Temperature (°C)', p.tx, p.ty, 45, 'middle', 'x-axis-title');
    tt.setAttribute('style', 'fill:#1c1c1c');
    const yt = mk('text', {x: 0, y: 0, 'font-size': 31.5, 'text-anchor': 'middle', class: 'pl', transform: 'translate(' + (p.yx + 11) + ' ' + p.yy + ') rotate(-90)'}, root, 'y-axis-title');
    yt.textContent = 'excess heat capacity (cal/g.K)';
  }
  const pts = p.xs.map((x, i) => [p.sx(x), p.sy(p.ys[i])]);
  const holder = mk('g', {'clip-path': 'url(#' + clipId + ')', filter: 'url(#lineBlur)'}, root, 'series-holder-' + p.id);
  mk('path', {d: smooth(pts, isP ? .12 : .17), fill: 'none', stroke: isP ? p.col : '#333', 'stroke-width': isP ? 4 : 5.5, 'stroke-linejoin': 'round'}, holder, 'series-line-' + p.id);
});
</script>
</body>
</html>
